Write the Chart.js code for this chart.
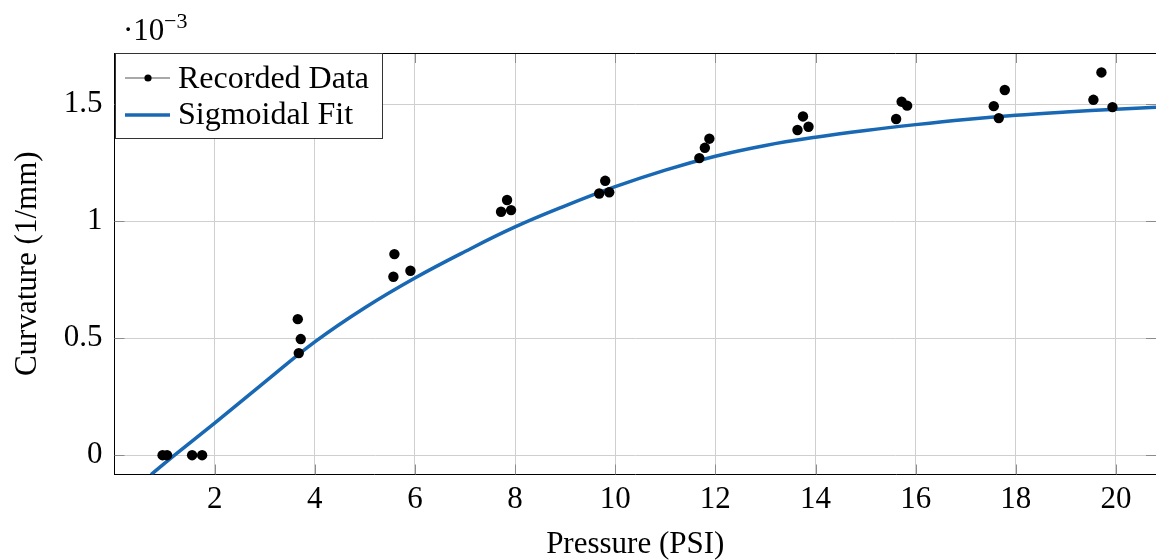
<!DOCTYPE html>
<html>
<head>
<meta charset="utf-8">
<script src="https://cdn.jsdelivr.net/npm/chart.js@4"></script>
<style>
html, body { margin: 0; padding: 0; background: #fff; }
</style>
</head>
<body>
<canvas id="myChart" width="1156" height="560"></canvas>
<script>
// recorded points (curvature in 1e-3 1/mm)
const recX = [0.96, 1.05, 1.55, 1.75,
    3.66, 3.72, 3.68,
    5.59, 5.57, 5.91,
    7.84, 7.72, 7.92,
    9.80, 9.68, 9.88,
    11.88, 11.79, 11.68,
    13.64, 13.86, 13.75,
    15.61, 15.72, 15.83,
    17.56, 17.78, 17.66,
    19.55, 19.71, 19.93];
const recY = [0, 0, 0, 0,
    0.581, 0.496, 0.436,
    0.859, 0.762, 0.788,
    1.090, 1.040, 1.047,
    1.172, 1.118, 1.123,
    1.352, 1.313, 1.269,
    1.389, 1.403, 1.447,
    1.436, 1.510, 1.493,
    1.491, 1.560, 1.440,
    1.518, 1.635, 1.487];

// sigmoidal fit
const fitX = [0.73, 1.2, 2, 3, 4, 5, 6, 7, 8, 9, 10, 11, 12, 13, 14, 15, 16, 17, 18, 19, 20, 20.8];
const fitY = [-0.083, 0, 0.137, 0.312, 0.484, 0.63, 0.757, 0.87, 0.975, 1.065, 1.147, 1.218, 1.277, 1.323, 1.358, 1.387, 1.412, 1.434, 1.452, 1.466, 1.478, 1.486];

const xTicks = [2, 4, 6, 8, 10, 12, 14, 16, 18, 20];
const yTicks = [0, 0.5, 1, 1.5];

const serif = "'Liberation Serif', 'DejaVu Serif', serif";
const blue = '#1868b4';

function line(ctx, x1, y1, x2, y2) {
    ctx.beginPath();
    ctx.moveTo(x1, y1);
    ctx.lineTo(x2, y2);
    ctx.stroke();
}

const frameLegend = {
    id: 'frameLegend',
    afterDraw(chart) {
        const ctx = chart.ctx;
        const a = chart.chartArea;
        const sx = chart.scales.x, sy = chart.scales.y;
        ctx.save();

        // small tick marks inside the box
        ctx.strokeStyle = '#8c8c8c';
        ctx.lineWidth = 1;
        sx.ticks.forEach(t => {
            const p = Math.round(sx.getPixelForValue(t.value)) + 0.5;
            line(ctx, p, a.top, p, a.top + 10);
            line(ctx, p, a.bottom, p, a.bottom - 10);
        });
        sy.ticks.forEach(t => {
            const p = Math.round(sy.getPixelForValue(t.value)) + 0.5;
            line(ctx, a.left, p, a.left + 10, p);
            line(ctx, a.right, p, a.right - 10, p);
        });

        // top edge of frame
        ctx.strokeStyle = '#000';
        line(ctx, a.left, Math.round(a.top) + 0.5, a.right, Math.round(a.top) + 0.5);

        // exponent label
        ctx.fillStyle = '#000';
        ctx.textBaseline = 'alphabetic';
        ctx.textAlign = 'left';
        ctx.font = '31px ' + serif;
        ctx.fillText('\u00b710', 123, 40);
        ctx.font = '22px ' + serif;
        ctx.fillText('\u22123', 164, 28);

        // legend box
        const lx = Math.round(a.left) + 0.5, ly = Math.round(a.top) + 0.5;
        const lw = 267, lh = 85;
        ctx.fillStyle = '#fff';
        ctx.fillRect(lx, ly, lw, lh);
        ctx.strokeStyle = '#333';
        ctx.strokeRect(lx, ly, lw, lh);

        const ds = chart.data.datasets;
        ctx.font = '32px ' + serif;
        ctx.fillStyle = '#000';

        // Recorded Data entry
        ctx.strokeStyle = '#555';
        ctx.lineWidth = 1.2;
        line(ctx, 125, 78, 170, 78);
        ctx.beginPath();
        ctx.arc(148, 78, 3.6, 0, Math.PI * 2);
        ctx.fill();
        ctx.fillText(ds[0].label, 178, 88);

        // fit entry
        ctx.strokeStyle = ds[1].borderColor;
        ctx.lineWidth = 3.5;
        line(ctx, 125, 115, 170, 115);
        ctx.fillText(ds[1].label, 178, 124);

        ctx.restore();
    }
};

const ctx = document.getElementById('myChart').getContext('2d');
const myChart = new Chart(ctx, {
    type: 'scatter',
    data: {
        datasets: [{
            label: 'Recorded Data',
            data: recX.map((x, i) => ({ x: x, y: recY[i] })),
            showLine: false,
            pointRadius: 5.2,
            pointBackgroundColor: '#000',
            pointBorderWidth: 0,
            order: 0
        },
        {
            label: 'Sigmoidal Fit',
            data: fitX.map((x, i) => ({ x: x, y: fitY[i] })),
            showLine: true,
            borderColor: blue,
            borderWidth: 3.5,
            pointRadius: 0,
            tension: 0.4,
            order: 1
        }]
    },
    options: {
        responsive: false,
        animation: false,
        layout: { autoPadding: false, padding: { top: 53, left: 0, right: 0, bottom: 0 } },
        plugins: {
            legend: { display: false },
            tooltip: { enabled: false }
        },
        scales: {
            x: {
                type: 'linear',
                min: 0,
                max: 20.8,
                afterBuildTicks: s => { s.ticks = xTicks.map(v => ({ value: v })); },
                afterFit: s => { s.height = 85.5; },
                grid: { color: '#cfcfcf', drawTicks: false },
                border: { color: '#000', width: 1 },
                ticks: { color: '#000', padding: 7, font: { family: serif, size: 31 } },
                title: {
                    display: true,
                    text: 'Pressure (PSI)',
                    color: '#000',
                    font: { family: serif, size: 31 },
                    padding: { top: 0, bottom: -3 }
                }
            },
            y: {
                type: 'linear',
                min: -0.0825,
                max: 1.718,
                afterBuildTicks: s => { s.ticks = yTicks.map(v => ({ value: v })); },
                afterFit: s => { s.width = 114.5; },
                grid: { color: '#cfcfcf', drawTicks: false },
                border: { color: '#000', width: 1 },
                ticks: {
                    color: '#000',
                    padding: 12,
                    font: { family: serif, size: 31 },
                    callback: v => String(v)
                },
                title: {
                    display: true,
                    text: 'Curvature (1/mm)',
                    color: '#000',
                    font: { family: serif, size: 31 },
                    padding: { top: 9, bottom: 0 }
                }
            }
        }
    },
    plugins: [frameLegend]
});
</script>
</body>
</html>
